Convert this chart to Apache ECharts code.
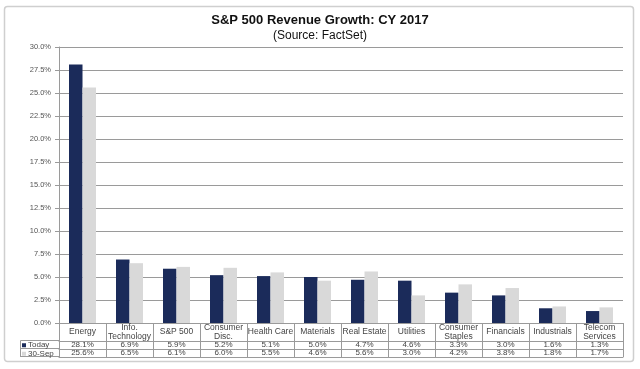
<!DOCTYPE html>
<html>
<head>
<meta charset="utf-8">
<script src="https://cdn.jsdelivr.net/npm/echarts@6/dist/echarts.min.js"></script>
<style>html,body{margin:0;padding:0;background:#fff;}#c{width:640px;height:369px;}</style>
</head>
<body>
<div id="c"></div>
<script>
var categories = ['Energy', 'Info.\nTechnology', 'S&P 500', 'Consumer\nDisc.', 'Health Care', 'Materials', 'Real Estate', 'Utilities', 'Consumer\nStaples', 'Financials', 'Industrials', 'Telecom\nServices'];
var today = [28.1, 6.9, 5.9, 5.2, 5.1, 5.0, 4.7, 4.6, 3.3, 3.0, 1.6, 1.3];
var sep30 = [25.6, 6.5, 6.1, 6.0, 5.5, 4.6, 5.6, 3.0, 4.2, 3.8, 1.8, 1.7];
var seriesNames = ['Today', '30-Sep'];
var yTicks = [0, 2.5, 5, 7.5, 10, 12.5, 15, 17.5, 20, 22.5, 25, 27.5, 30];

var FONT = '"Liberation Sans", Arial, sans-serif';
var NAVY = '#1b2b5a';
var GRAY = '#d9d9d9';
var LINE = '#9a9a9a';
var TXT = '#444';

var chart = echarts.init(document.getElementById('c'), null, {renderer: 'canvas'});

function tableAxis(offset, vals, showLabels) {
  return {
    type: 'category', data: categories, position: 'bottom', offset: offset, gridIndex: 0,
    axisLine: {show: true, lineStyle: {color: LINE, width: 1}},
    axisTick: {show: false},
    axisLabel: showLabels ? {
      show: true, interval: 0, margin: 4, verticalAlign: 'middle',
      fontFamily: FONT, fontSize: 8, color: TXT,
      formatter: function (v, i) { return vals[i].toFixed(1) + '%'; }
    } : {show: false},
    splitLine: {show: false}
  };
}

var option = {
  backgroundColor: '#fff',
  animation: false,
  title: [
    {text: 'S&P 500 Revenue Growth: CY 2017', left: 'center', top: 9,
     textStyle: {fontFamily: FONT, fontSize: 13, fontWeight: 'bold', color: '#111'}},
    {text: '(Source: FactSet)', left: 'center', top: 25,
     textStyle: {fontFamily: FONT, fontSize: 12, fontWeight: 'normal', color: '#111'}}
  ],
  legend: {
    orient: 'vertical', left: 22, top: 341, itemGap: 0,
    itemWidth: 4, itemHeight: 4, icon: 'rect',
    data: seriesNames,
    textStyle: {fontFamily: FONT, fontSize: 8, color: TXT, lineHeight: 8.5, padding: [0, 0, 0, -3]},
    padding: 0
  },
  grid: {left: 59, right: 17, top: 47, bottom: 46, containLabel: false, show: false},
  xAxis: [
    {
      type: 'category', data: categories, position: 'bottom',
      axisLine: {show: true, lineStyle: {color: LINE, width: 1}},
      axisTick: {show: true, length: 34, lineStyle: {color: LINE, width: 1}},
      axisLabel: {show: true, interval: 0, margin: 9, verticalAlign: 'middle', lineHeight: 8.5,
        fontFamily: FONT, fontSize: 8.5, color: TXT},
      splitLine: {show: false}
    },
    tableAxis(18, today, true),
    tableAxis(26, sep30, true),
    tableAxis(34, today, false)
  ],
  yAxis: {
    type: 'value', min: 0, max: 30, interval: 2.5,
    axisLine: {show: true, lineStyle: {color: LINE, width: 1}},
    axisTick: {show: true, length: 4, lineStyle: {color: LINE}},
    axisLabel: {fontFamily: FONT, fontSize: 7.5, color: '#555', margin: 8,
      formatter: function (v) { return v.toFixed(1) + '%'; }},
    splitLine: {show: true, lineStyle: {color: LINE, width: 1}}
  },
  series: [
    {name: seriesNames[0], type: 'bar', data: today, barWidth: 13.5, barGap: '0%',
     itemStyle: {color: NAVY}},
    {name: seriesNames[1], type: 'bar', data: sep30, barWidth: 13.5,
     itemStyle: {color: GRAY}}
  ],
  graphic: [
    {type: 'rect', shape: {x: 4.5, y: 6.5, width: 629, height: 355, r: 3}, silent: true, z: -1,
     style: {fill: 'none', stroke: '#cfcfcf', lineWidth: 1.5}},
    {type: 'line', shape: {x1: 20.5, y1: 340.5, x2: 59, y2: 340.5}, style: {stroke: LINE, lineWidth: 1}},
    {type: 'line', shape: {x1: 20.5, y1: 348.5, x2: 59, y2: 348.5}, style: {stroke: LINE, lineWidth: 1}},
    {type: 'line', shape: {x1: 20.5, y1: 356.5, x2: 59, y2: 356.5}, style: {stroke: LINE, lineWidth: 1}},
    {type: 'line', shape: {x1: 20.5, y1: 340.5, x2: 20.5, y2: 357}, style: {stroke: LINE, lineWidth: 1}}
  ]
};
chart.setOption(option);
</script>
</body>
</html>
